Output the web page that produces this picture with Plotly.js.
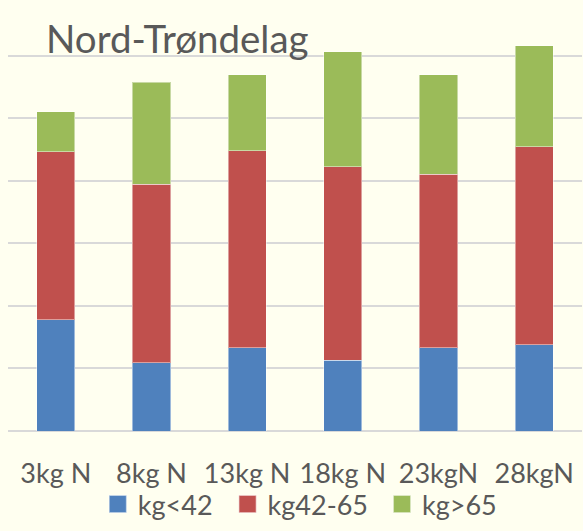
<!DOCTYPE html>
<html>
<head>
<meta charset="utf-8">
<script src="https://cdn.plot.ly/plotly-3.0.1.min.js"></script>
<style>html,body{margin:0;padding:0;background:#FFFFF0;}#chart{width:583px;height:531px;}</style>
</head>
<body>
<div id="chart"></div>
<script>
const categories = ["3kg N", "8kg N", "13kg N", "18kg N", "23kgN", "28kgN"];
const seriesNames = ["kg<42", "kg42-65", "kg>65"];
const under42 = [1.78, 1.09, 1.33, 1.13, 1.33, 1.38];
const from42to65 = [2.68, 2.85, 3.15, 3.09, 2.77, 3.16];
const over65 = [0.64, 1.63, 1.21, 1.84, 1.59, 1.62];
const colors = ["#4F81BD", "#C0504D", "#9BBB59"];

const seriesValues = [under42, from42to65, over65];
const traces = seriesValues.map((vals, i) => ({
  type: "bar",
  name: seriesNames[i],
  x: categories,
  y: vals,
  marker: {color: colors[i], line: {color: "rgba(255,255,255,0.45)", width: 1}},
  hoverinfo: "x+y+name"
}));

const font = "Lato, 'Open Sans', sans-serif";
const layout = {
  width: 583, height: 531,
  paper_bgcolor: "#FFFFF0", plot_bgcolor: "#FFFFF0",
  barmode: "stack", bargap: 0.6,
  margin: {l: 8, r: 1, t: 18, b: 100},
  title: {text: "Nord-Trøndelag", font: {family: font, size: 38.5, color: "#595959"},
          xref: "container", x: 46/583, xanchor: "left", yref: "container", y: 1 - 40/531, yanchor: "middle"},
  xaxis: {type: "category", showgrid: false, showline: false, ticks: "", zeroline: false,
          tickfont: {family: font, size: 27, color: "#595959"}, ticklabelstandoff: 24},
  yaxis: {range: [0, 6.6], dtick: 1, showticklabels: false, ticks: "", showline: false,
          gridcolor: "#D9D9D9", gridwidth: 2, zeroline: true, zerolinecolor: "#D9D9D9", zerolinewidth: 2},
  legend: {orientation: "h", x: 0.153, xanchor: "left", y: -0.178, yanchor: "middle",
           font: {family: font, size: 27, color: "#595959"}, bgcolor: "rgba(0,0,0,0)", traceorder: "normal"},
  showlegend: true
};
const legendShift = [2, 12, 21];
Plotly.newPlot("chart", traces, layout, {displayModeBar: false, staticPlot: true}).then(gd => {
  gd.querySelectorAll(".legend [clip-path]").forEach(e => e.removeAttribute("clip-path"));
  gd.querySelectorAll(".legend .legendpoints path").forEach(p => {
    const t = p.getAttribute("transform") || "";
    p.setAttribute("transform", t + " scale(1.45)");
  });
  gd.querySelectorAll(".legend g.traces").forEach((g, i) => {
    const t = g.getAttribute("transform") || "";
    g.setAttribute("transform", "translate(" + (legendShift[i] || 0) + ",0) " + t);
  });
});
</script>
</body>
</html>
